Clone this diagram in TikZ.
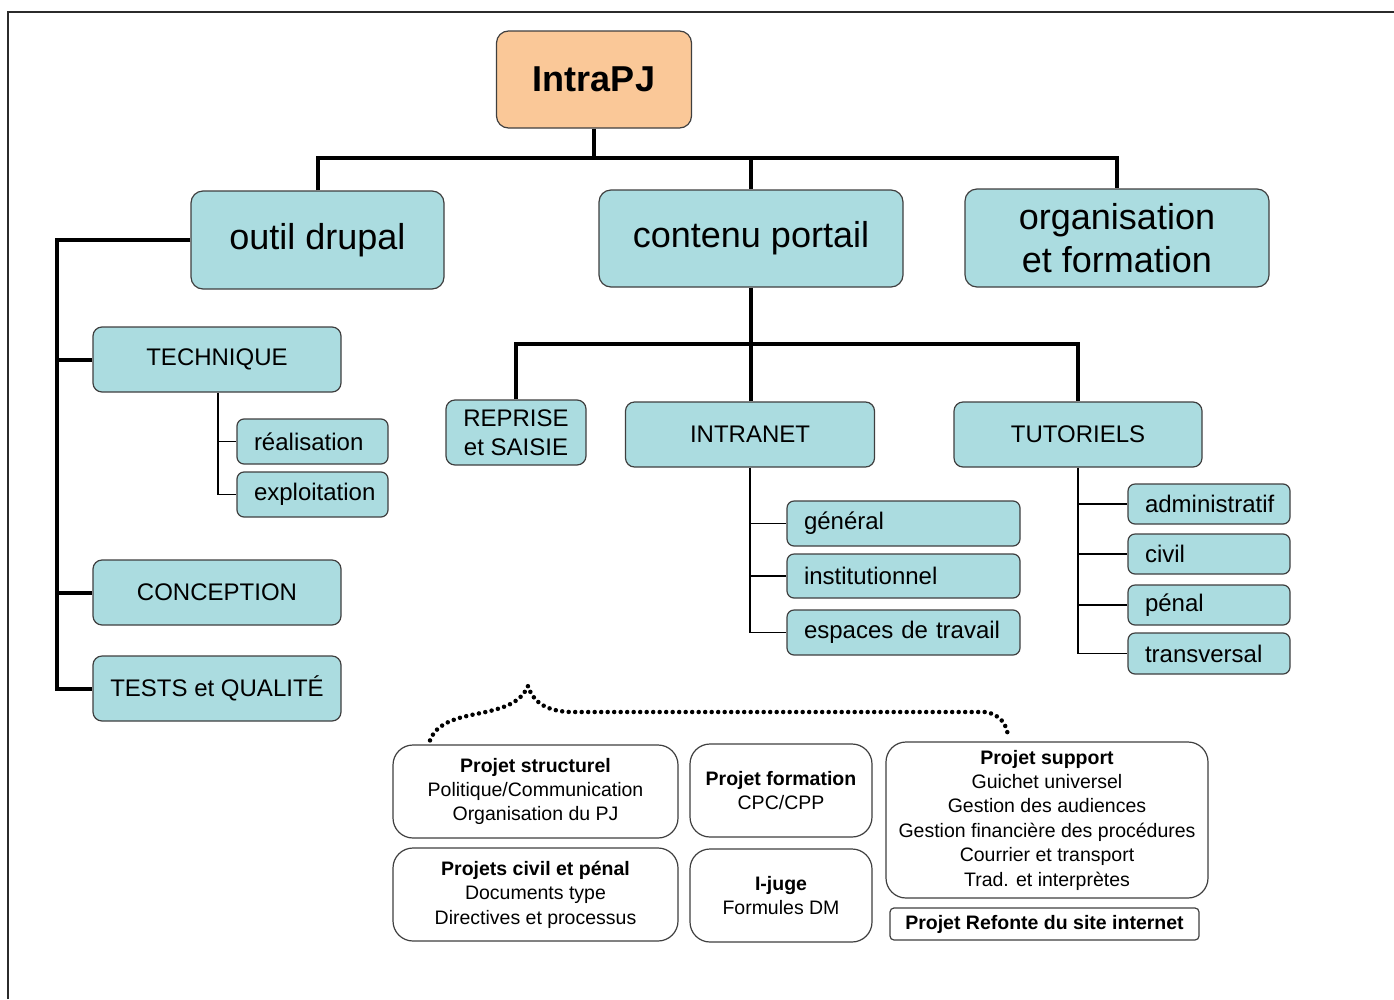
\documentclass[tikz,border=0pt]{standalone}
\usepackage{fontspec}
\setmainfont{Liberation Sans}
\usetikzlibrary{positioning}
\definecolor{peach}{HTML}{FAC898}
\definecolor{lagoon}{HTML}{ABDCE0}
\definecolor{rim}{HTML}{3F3F3F}
\definecolor{framegray}{HTML}{2B2B2B}

\begin{document}
\begin{tikzpicture}[
    x=1pt, y=-1pt,
    root/.style={
        draw=rim, line width=1.2pt,
        fill=peach,
        rounded corners=12pt,
        minimum width=195pt, minimum height=97pt,
        font=\fontsize{36}{43}\selectfont\bfseries,
    },
    bigbox/.style={
        draw=rim, line width=1.2pt,
        fill=lagoon,
        rounded corners=12pt,
        minimum width=304pt, minimum height=98pt,
        align=center,
        font=\fontsize{36}{43}\selectfont,
    },
    midbox/.style={
        draw=rim, line width=1.2pt,
        fill=lagoon,
        rounded corners=9pt,
        minimum width=248pt, minimum height=65pt,
        align=center,
        font=\fontsize{24}{29}\selectfont,
    },
    leaf/.style={
        draw=rim, line width=1.2pt,
        fill=lagoon,
        rounded corners=7pt,
        inner xsep=17pt, inner ysep=0pt,
        text width=#1,
        minimum height=45pt,
        align=left,
        font=\fontsize{24}{29}\selectfont,
    },
    projbox/.style={
        draw=rim, line width=1.2pt,
        fill=white,
        rounded corners=20pt,
        minimum height=93pt,
        align=center,
        font=\fontsize{19.5}{24.4}\selectfont,
    },
    trunk/.style={line width=4pt},
    twig/.style={line width=1.4pt},
]
\useasboundingbox (0,0) rectangle (1394,999);

% --- frame ---
\draw[line width=1.6pt, framegray] (8,999) -- (8,12) -- (1394,12);

% --- top level ---
\node[root] (intra) at (594,79.5) {IntraPJ};

\node[bigbox, minimum width=253pt] (outil) at (317.5,240) {outil drupal};
\node[bigbox, minimum height=97pt] (contenu) at (751,238.5) {contenu portail};
\node[bigbox] (orga) at (1117,238) {organisation\\et formation};

% --- outil drupal branch ---
\node[midbox] (tech) at (217,359.5) {TECHNIQUE};
\node[leaf=117pt] (realis) at (312.5,441.5) {réalisation};
\node[leaf=117pt] (exploit) at (312.5,494.5) {exploitation};
\node[midbox] (concept) at (217,592.5) {CONCEPTION};
\node[midbox] (tests) at (217,688.5) {TESTS et QUALITÉ};

% --- contenu portail branch ---
\node[midbox, minimum width=140pt] (reprise) at (516,432.5) {REPRISE\\et SAISIE};
\node[midbox, minimum width=249pt] (intranet) at (750,434.5) {INTRANET};
\node[midbox] (tuto) at (1078,434.5) {TUTORIELS};

\node[leaf=199pt] (general) at (903.5,523.5) {général};
\node[leaf=199pt, minimum height=44pt] (instit) at (903.5,576) {institutionnel};
\node[leaf=199pt] (espaces) at (903.5,632.5) {espaces de travail};

\node[leaf=128pt, minimum height=40pt] (admin) at (1209,504) {administratif};
\node[leaf=128pt, minimum height=40pt] (civil) at (1209,554) {civil};
\node[leaf=128pt, minimum height=40pt] (penal) at (1209,605) {pénal};
\node[leaf=128pt, minimum height=41pt] (transv) at (1209,653.5) {transversal};

% --- thick connectors ---
\coordinate (bus1) at (594,158);
\draw[trunk] (intra.south) -- (bus1);
\draw[trunk] (outil.north) |- (bus1) -| (orga.north);
\draw[trunk] (bus1 -| contenu.north) -- (contenu.north);

\coordinate (spine) at (57,240);
\draw[trunk] (outil.west) -- (spine) |- (tests.west);
\draw[trunk] (spine |- tech.west) -- (tech.west);
\draw[trunk] (spine |- concept.west) -- (concept.west);

\coordinate (bus2) at (751,344);
\draw[trunk] (contenu.south) -- (bus2 |- intranet.north);
\draw[trunk] (reprise.north) |- (bus2) -| (tuto.north);

% --- thin connectors ---
\draw[twig] ([xshift=1pt]tech.south) |- (exploit.west);
\draw[twig] ([xshift=1pt]tech.south |- realis.west) -- (realis.west);

\draw[twig] (intranet.south) |- (espaces.west);
\draw[twig] (intranet.south |- general.west) -- (general.west);
\draw[twig] (intranet.south |- instit.west) -- (instit.west);

\draw[twig] (tuto.south) |- (transv.west);
\draw[twig] (tuto.south |- admin.west) -- (admin.west);
\draw[twig] (tuto.south |- civil.west) -- (civil.west);
\draw[twig] (tuto.south |- penal.west) -- (penal.west);

% --- projects ---
\node[projbox, minimum width=285pt] (pstruct) at (535.5,791.5)
    {\textbf{Projet structurel}\\Politique/Communication\\Organisation du PJ};
\node[projbox, minimum width=182pt] (pform) at (781,790.5)
    {\textbf{Projet formation}\\CPC/CPP};
\node[projbox, minimum width=285pt] (pciv) at (535.5,894.5)
    {\textbf{Projets civil et pénal}\\Documents type\\Directives et processus};
\node[projbox, minimum width=182pt] (ijuge) at (781,895.5)
    {\textbf{I-juge}\\Formules DM};
\node[projbox, minimum width=322pt, minimum height=156pt, inner xsep=4pt] (psupp) at (1047,820)
    {\textbf{Projet support}\\Guichet universel\\Gestion des audiences\\Gestion financière des procédures\\Courrier et transport\\Trad. et interprètes};
\node[projbox, minimum width=309pt, minimum height=32pt, rounded corners=4pt] (prefonte) at (1044.5,924)
    {\textbf{Projet Refonte du site internet}};

% --- dotted brace over the projects ---
\coordinate (brL) at (pstruct.north -| 430,0);
\coordinate (brT) at (528,686);
\coordinate (brR) at (psupp.north -| 1008,0);
\draw[line width=4.5pt, dash pattern=on 0pt off 6.5pt, line cap=round]
    ([yshift=4pt]brL) .. controls (438,718) and (470,716) .. (490,711)
    .. controls (510,706) and (522,700) .. (brT)
    .. controls (533,702) and (546,711) .. (570,712) -- (985,712)
    .. controls (1000,714) and (1008,725) .. ([yshift=3pt]brR);

\end{tikzpicture}
\end{document}
